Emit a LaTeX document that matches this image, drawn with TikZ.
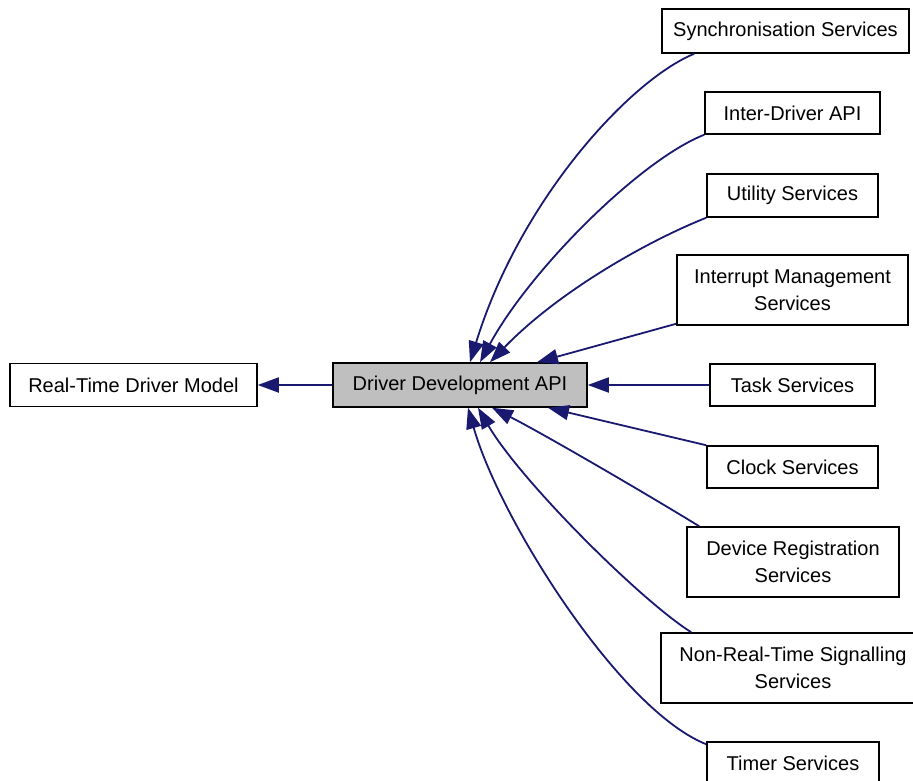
\documentclass[tikz,border=0pt]{standalone}
\usepackage{fontspec}
\setmainfont{Liberation Sans}
\usetikzlibrary{arrows.meta}
\definecolor{edgeblue}{RGB}{25,25,112}
\definecolor{ddagray}{RGB}{191,191,191}
\begin{document}
\begin{tikzpicture}[x=1pt,y=-1pt,
  gbox/.style={draw=black, line width=1.5pt, inner sep=0pt, align=center,
    font=\fontsize{20}{26.5}\selectfont},
  edge/.style={draw=edgeblue, line width=1.8pt,
    -{Triangle[length=21pt,width=15pt]}}]
\useasboundingbox (0,0) rectangle (913,781);
\node[gbox, minimum width=247pt, minimum height=43pt] (rtdm) at (133.5,385) {Real-Time Driver Model};
\node[gbox, fill=ddagray, minimum width=254pt, minimum height=44pt] (dda) at (460,385) {Driver Development API};
\node[gbox, minimum width=247pt, minimum height=44pt] (sync) at (785.5,31) {Synchronisation Services};
\node[gbox, minimum width=175pt, minimum height=42pt] (inter) at (792.5,113) {Inter-Driver API};
\node[gbox, minimum width=171pt, minimum height=43pt] (util) at (792.5,195.5) {Utility Services};
\node[gbox, minimum width=231pt, minimum height=70pt] (intr) at (792.5,290) {Interrupt Management\\Services};
\node[gbox, minimum width=165pt, minimum height=42pt] (task) at (792.5,385) {Task Services};
\node[gbox, minimum width=171pt, minimum height=42pt] (clock) at (792.5,467) {Clock Services};
\node[gbox, minimum width=212pt, minimum height=70pt] (dev) at (793,562) {Device Registration\\Services};
\node[gbox, minimum width=264pt, minimum height=70pt] (nrt) at (793,668) {Non-Real-Time Signalling\\Services};
\node[gbox, minimum width=172pt, minimum height=43pt] (timer) at (793,763.5) {Timer Services};

\draw[edge] (dda.west) -- (rtdm.east);
\draw[edge] ([xshift=33pt]sync.south west) .. controls (630,80) and (520,200) .. ([xshift=10pt]dda.north);
\draw[edge] (inter.south west) .. controls (640,160) and (530,270) .. ([xshift=20pt]dda.north);
\draw[edge] (util.south west) .. controls (650,240) and (560,290) .. ([xshift=30pt]dda.north);
\draw[edge] ([yshift=2pt]intr.south west) -- ([xshift=77pt]dda.north);
\draw[edge] (task.west) -- (dda.east);
\draw[edge] (clock.north west) -- ([xshift=88pt]dda.south);
\draw[edge] ([xshift=13pt]dev.north west) .. controls (640,490) and (540,432) .. ([xshift=32pt]dda.south);
\draw[edge] ([xshift=31pt]nrt.north west) .. controls (640,600) and (520,480) .. ([xshift=18pt]dda.south);
\draw[edge] ([yshift=-3pt]timer.north west) .. controls (620,710) and (500,520) .. ([xshift=8pt]dda.south);
\end{tikzpicture}
\end{document}
